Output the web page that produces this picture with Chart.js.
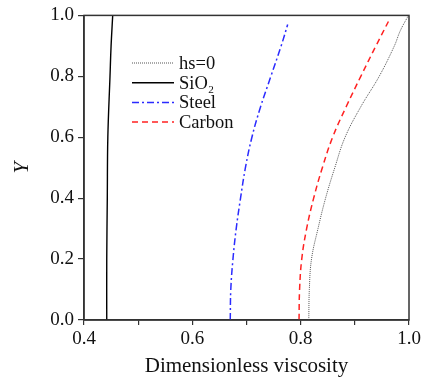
<!DOCTYPE html>
<html>
<head>
<meta charset="utf-8">
<title>Dimensionless viscosity</title>
<script src="https://cdn.jsdelivr.net/npm/chart.js"></script>
<style>
  html, body { margin: 0; padding: 0; background: #fff; }
  #wrap { width: 426px; height: 382px; }
</style>
</head>
<body>
<div id="wrap"><canvas id="chart" width="426" height="382"></canvas></div>
<script>
// data (x = dimensionless viscosity, y = Y)
const seriesNames = ['hs=0', 'SiO\u2082', 'Steel', 'Carbon'];

const hs0Y = [0, 0.1, 0.2, 0.3, 0.4, 0.5, 0.6, 0.7, 0.8, 0.9, 0.95, 1.0];
const hs0X = [0.815, 0.816, 0.820, 0.832, 0.846, 0.863, 0.882, 0.911, 0.945, 0.973, 0.984, 0.999];

const sio2Y = [0, 0.2, 0.4, 0.6, 0.8, 0.9, 1.0];
const sio2X = [0.442, 0.442, 0.443, 0.444, 0.448, 0.450, 0.453];

const steelY = [0, 0.1, 0.2, 0.3, 0.4, 0.5, 0.6, 0.7, 0.8, 0.9, 0.97];
const steelX = [0.670, 0.671, 0.675, 0.681, 0.689, 0.698, 0.710, 0.726, 0.745, 0.764, 0.776];

const carbonY = [0, 0.1, 0.2, 0.3, 0.4, 0.5, 0.6, 0.7, 0.8, 0.9, 0.98];
const carbonX = [0.797, 0.798, 0.802, 0.811, 0.824, 0.840, 0.859, 0.884, 0.911, 0.939, 0.962];

const xTicks = [0.4, 0.6, 0.8, 1.0];
const yTicks = [0.0, 0.2, 0.4, 0.6, 0.8, 1.0];

const serif = "'Liberation Serif', 'Times New Roman', serif";

function pts(xs, ys) {
  return xs.map((x, i) => ({ x: x, y: ys[i] }));
}

const datasets = [
  { label: seriesNames[0], data: pts(hs0X, hs0Y), borderColor: '#555', borderWidth: 1, borderDash: [1, 1] },
  { label: seriesNames[1], data: pts(sio2X, sio2Y), borderColor: '#000', borderWidth: 1.4, borderDash: [] },
  { label: seriesNames[2], data: pts(steelX, steelY), borderColor: '#2b2bff', borderWidth: 1.5, borderDash: [7, 3, 2, 3] },
  { label: seriesNames[3], data: pts(carbonX, carbonY), borderColor: '#ff2222', borderWidth: 1.5, borderDash: [6, 4] }
].map(d => Object.assign(d, { showLine: true, pointRadius: 0, tension: 0.4, fill: false }));

// frame on all four sides
const frame = {
  id: 'frame',
  afterDatasetsDraw(chart) {
    const a = chart.chartArea, c = chart.ctx;
    c.save();
    c.strokeStyle = '#333';
    c.lineWidth = 1.5;
    c.strokeRect(a.left, a.top, a.right - a.left, a.bottom - a.top);
    c.restore();
  }
};

// legend with line samples
const lineLegend = {
  id: 'lineLegend',
  afterDraw(chart) {
    const c = chart.ctx;
    const x0 = 132, x1 = 174, top = 63, step = 19.7;
    c.save();
    c.font = '18.5px ' + serif;
    c.textBaseline = 'middle';
    c.fillStyle = '#111';
    chart.data.datasets.forEach((d, i) => {
      const y = top + i * step;
      c.beginPath();
      c.strokeStyle = d.borderColor;
      c.lineWidth = d.borderWidth;
      c.setLineDash(d.borderDash);
      c.moveTo(x0, y);
      c.lineTo(x1, y);
      c.stroke();
      c.setLineDash([]);
      c.fillText(d.label, x1 + 5, y + 1);
    });
    c.restore();
  }
};

new Chart(document.getElementById('chart'), {
  type: 'scatter',
  data: { datasets: datasets },
  plugins: [frame, lineLegend],
  options: {
    responsive: false,
    animation: false,
    layout: { padding: { top: 15, right: 17, left: 0, bottom: 0 } },
    plugins: { legend: { display: false }, tooltip: { enabled: false } },
    scales: {
      x: {
        min: 0.4, max: 1.0,
        afterFit(s) { s.height = 62; },
        border: { color: '#333', width: 1.5 },
        grid: { drawOnChartArea: false, tickLength: 5, color: '#333', lineWidth: 1.2 },
        ticks: {
          stepSize: 0.1,
          autoSkip: false,
          maxRotation: 0,
          padding: 3,
          color: '#111',
          font: { family: serif, size: 19 },
          callback: v => xTicks.some(t => Math.abs(t - v) < 1e-6) ? v.toFixed(1) : ''
        },
        title: {
          display: true,
          text: 'Dimensionless viscosity',
          color: '#111',
          font: { family: serif, size: 21 },
          padding: { top: 0, bottom: 3 }
        }
      },
      y: {
        min: 0, max: 1.0,
        afterFit(s) { s.width = 84; },
        border: { color: '#333', width: 1.5 },
        grid: { drawOnChartArea: false, tickLength: 6, color: '#333', lineWidth: 1.2 },
        ticks: {
          stepSize: 0.2,
          padding: 4,
          color: '#111',
          font: { family: serif, size: 19 },
          callback: v => yTicks.some(t => Math.abs(t - v) < 1e-6) ? v.toFixed(1) : ''
        },
        title: {
          display: true,
          text: 'Y',
          color: '#111',
          font: { family: serif, size: 21, style: 'italic' },
          padding: { top: 10, bottom: 0 }
        }
      }
    }
  }
});
</script>
</body>
</html>
